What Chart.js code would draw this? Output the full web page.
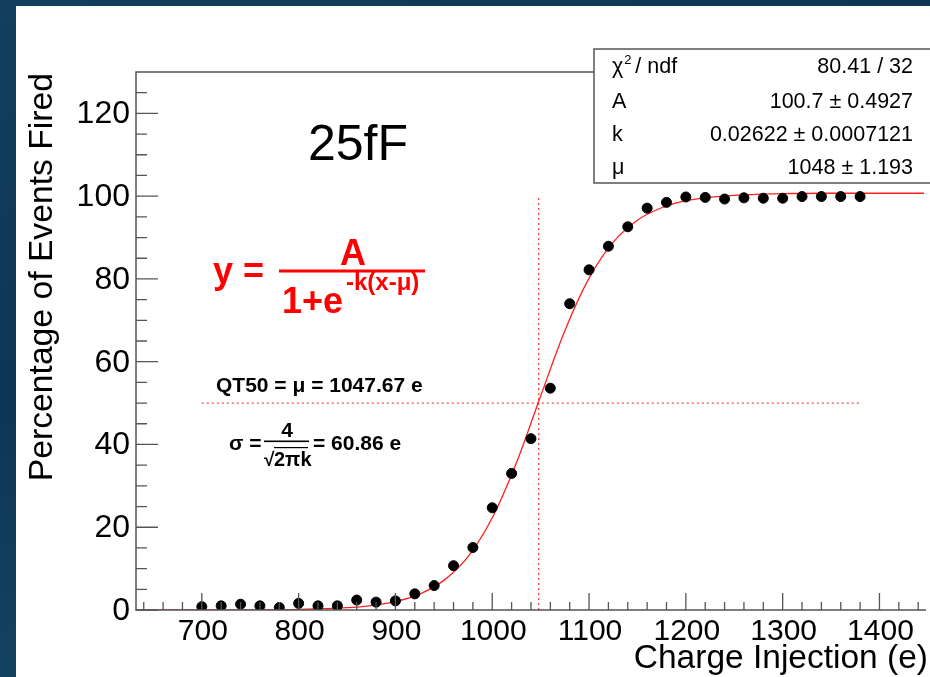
<!DOCTYPE html>
<html>
<head>
<meta charset="utf-8">
<title>25fF S-curve</title>
<script src="https://cdn.jsdelivr.net/npm/chart.js@4.4.1/dist/chart.umd.min.js"></script>
<style>
  html, body { margin: 0; padding: 0; background: #0f3b58; overflow: hidden; }
  #wrap { position: relative; width: 930px; height: 677px; }
</style>
</head>
<body>
<div id="wrap"><canvas id="scurve" width="930" height="677"></canvas></div>
<script>
// measured points: charge injected (e) vs % of events fired
const chargeVals = [700, 720, 740, 760, 780, 800, 820, 840, 860, 880, 900, 920, 940, 960,
                    980, 1000, 1020, 1040, 1060, 1080, 1100, 1120, 1140, 1160, 1180, 1200,
                    1220, 1240, 1260, 1280, 1300, 1320, 1340, 1360, 1380];
const firedPct   = [0.8, 1.0, 1.4, 1.0, 0.6, 1.6, 1.0, 1.0, 2.4, 1.9, 2.2, 3.9, 5.9, 10.7,
                    15.1, 24.7, 33.0, 41.4, 53.6, 74.0, 82.2, 87.9, 92.6, 97.1, 98.5, 99.8,
                    99.7, 99.3, 99.6, 99.5, 99.5, 99.9, 99.9, 99.9, 99.9];

// fitted curve
const fitX = [636, 700, 750, 800, 850, 875, 900, 925, 950, 975, 1000, 1025, 1048,
              1075, 1100, 1125, 1150, 1175, 1200, 1250, 1300, 1350, 1446];
const fitY = [0.0, 0.01, 0.04, 0.15, 0.56, 1.07, 2.04, 3.85, 7.16, 12.9, 22.3, 35.6, 50.4,
              67.5, 80.2, 88.9, 94.2, 97.2, 98.9, 100.2, 100.6, 100.7, 100.7];

// QT50 guide lines
const qt50Charge = 1048;
const vGuideY = [0, 100];
const hGuideX = [700, 1380];
const hGuideY = 50;

// axes
const xRange = [632, 1446];
const yRange = [0, 130];
const xTickLabels = [700, 800, 900, 1000, 1100, 1200, 1300, 1400];
const yTickLabels = [0, 20, 40, 60, 80, 100, 120];
const xMinorStep = 20;
const yMinorStep = 5;

// fit box
const statNames  = ['χ', 'A', 'k', 'μ'];
const statValues = ['80.41 / 32', '100.7 ± 0.4927', '0.02622 ± 0.0007121', '1048 ± 1.193'];

const FONT = '"Liberation Sans", Arial, Helvetica, sans-serif';

function txt(c, s, x, y, size, opts) {
  opts = opts || {};
  c.font = (opts.bold ? 'bold ' : '') + size + 'px ' + FONT;
  c.fillStyle = opts.color || '#000';
  c.textAlign = opts.align || 'left';
  c.textBaseline = opts.base || 'alphabetic';
  c.fillText(s, x, y);
  return c.measureText(s).width;
}

const decor = {
  id: 'decor',
  beforeDraw(chart) {
    const c = chart.ctx;
    c.save();
    const g = c.createLinearGradient(0, 0, 300, 677);
    g.addColorStop(0, '#123f5d');
    g.addColorStop(0.5, '#0e3654');
    g.addColorStop(1, '#164866');
    c.fillStyle = g;
    c.fillRect(0, 0, 930, 677);
    c.fillStyle = '#ffffff';
    c.fillRect(16, 6, 914, 671);
    c.restore();
  },
  afterDatasetsDraw(chart) {
    const c = chart.ctx;
    const xs = chart.scales.x, ys = chart.scales.y;
    const a = chart.chartArea;
    c.save();

    // frame
    c.strokeStyle = '#555';
    c.lineWidth = 1.5;
    c.beginPath();
    c.moveTo(a.right + 2, a.top); c.lineTo(a.left, a.top);
    c.lineTo(a.left, a.bottom); c.lineTo(a.right + 2, a.bottom);
    c.stroke();

    // ticks, pointing into the frame
    c.lineWidth = 1.3;
    c.beginPath();
    for (let v = yRange[0]; v <= yRange[1] - yMinorStep; v += yMinorStep) {
      const py = ys.getPixelForValue(v);
      const len = yTickLabels.includes(v) ? 22 : 11;
      c.moveTo(a.left, py); c.lineTo(a.left + len, py);
    }
    for (let v = 640; v <= xRange[1]; v += xMinorStep) {
      const px = xs.getPixelForValue(v);
      const len = xTickLabels.includes(v) ? 17 : 8;
      c.moveTo(px, a.bottom); c.lineTo(px, a.bottom - len);
    }
    c.stroke();

    yTickLabels.forEach(v => txt(c, String(v), 130, ys.getPixelForValue(v) + 1, 32, { align: 'right', base: 'middle' }));
    xTickLabels.forEach(v => txt(c, String(v), xs.getPixelForValue(v) + 1, 632, 30, { align: 'center', base: 'middle' }));

    txt(c, 'Charge Injection (e)', 928, 659, 33.5, { align: 'right', base: 'middle' });
    c.save();
    c.translate(43, 73);
    c.rotate(-Math.PI / 2);
    txt(c, 'Percentage of Events Fired', 0, 0, 33.7, { align: 'right', base: 'middle' });
    c.restore();

    // big label
    txt(c, '25fF', 358, 160, 50, { align: 'center' });

    // red formula
    const red = '#ff0000';
    txt(c, 'y =', 213, 283, 36, { bold: true, color: red });
    c.fillStyle = red;
    c.fillRect(279, 269.5, 146, 3);
    txt(c, 'A', 353, 265, 36, { bold: true, color: red, align: 'center' });
    txt(c, '1+e', 282, 313, 36, { bold: true, color: red });
    txt(c, '-k(x-μ)', 346, 290, 24, { bold: true, color: red });

    // QT50 / sigma notes
    txt(c, 'QT50 = μ = 1047.67 e', 216, 392, 21, { bold: true });
    txt(c, 'σ =', 229, 450, 21, { bold: true });
    c.fillStyle = '#000';
    c.fillRect(264, 440.5, 45, 1.6);
    txt(c, '4', 287, 437, 21, { bold: true, align: 'center' });
    txt(c, '√', 264, 466, 19, { bold: true });
    txt(c, '2πk', 274, 466, 20, { bold: true });
    c.fillRect(274, 447, 34, 1.2);
    txt(c, '= 60.86 e', 313, 450, 21, { bold: true });

    // fit stats box
    c.fillStyle = '#fff';
    c.fillRect(594, 49, 345, 134);
    c.strokeStyle = '#555';
    c.lineWidth = 1.5;
    c.strokeRect(594, 49, 345, 134);
    const rowY = [67, 102, 135, 168];
    statNames.forEach((n, i) => {
      const w = txt(c, n, 612, rowY[i], 21.5, { base: 'middle' });
      if (i === 0) {
        txt(c, '2', 612 + w + 1, rowY[i] - 7, 13, { base: 'middle' });
        txt(c, '/ ndf', 612 + w + 12, rowY[i], 21.5, { base: 'middle' });
      }
      txt(c, statValues[i], 913, rowY[i], 21.5, { align: 'right', base: 'middle' });
    });

    c.restore();
  }
};

const pts = chargeVals.map((x, i) => ({ x: x, y: firedPct[i] }));
const fitPts = fitX.map((x, i) => ({ x: x, y: fitY[i] }));
const vGuide = vGuideY.map(y => ({ x: qt50Charge, y: y }));
const hGuide = hGuideX.map(x => ({ x: x, y: hGuideY }));

new Chart(document.getElementById('scurve'), {
  type: 'scatter',
  data: {
    datasets: [
      { label: 'data', data: pts, backgroundColor: '#000', borderColor: '#000',
        pointRadius: 5, pointHoverRadius: 5, order: 0 },
      { label: 'fit', data: fitPts, showLine: true, borderColor: '#ff2020', borderWidth: 1.3,
        pointRadius: 0, cubicInterpolationMode: 'monotone', order: 1 },
      { label: 'qt50v', data: vGuide, showLine: true, borderColor: '#ff4a4a', borderWidth: 1.4,
        borderDash: [2, 3], pointRadius: 0, order: 2 },
      { label: 'qt50h', data: hGuide, showLine: true, borderColor: '#ff4a4a', borderWidth: 1.4,
        borderDash: [2, 3], pointRadius: 0, order: 2 }
    ]
  },
  options: {
    responsive: false,
    animation: false,
    layout: { padding: { left: 136, top: 72, right: 0, bottom: 67 } },
    plugins: { legend: { display: false }, tooltip: { enabled: false } },
    scales: {
      x: { type: 'linear', min: xRange[0], max: xRange[1], display: false },
      y: { type: 'linear', min: yRange[0], max: yRange[1], display: false }
    }
  },
  plugins: [decor]
});
</script>
</body>
</html>
